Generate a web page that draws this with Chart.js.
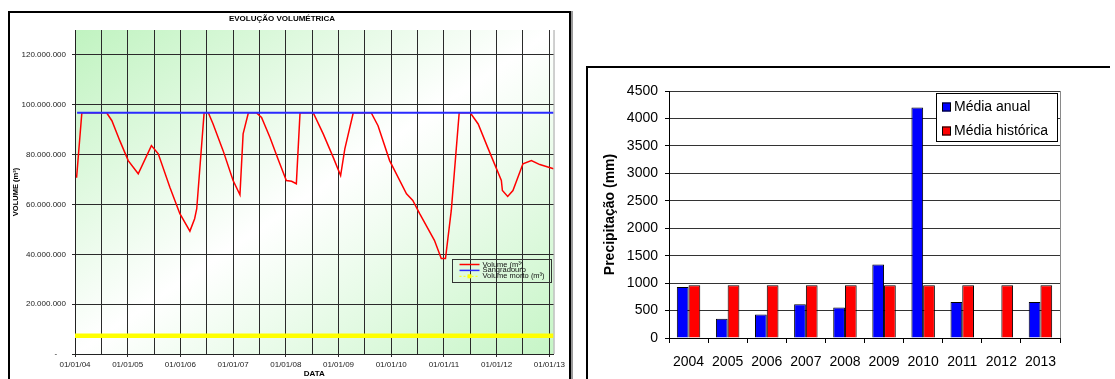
<!DOCTYPE html>
<html lang="pt-BR">
<head>
<meta charset="utf-8">
<title>Evolução volumétrica e precipitação</title>
<script src="https://cdn.jsdelivr.net/npm/chart.js@4.4.1/dist/chart.umd.min.js"></script>
<style>
  html, body { margin: 0; padding: 0; background: #fff; }
  body { width: 1115px; height: 379px; position: relative; overflow: hidden; }
  #box-volume { position: absolute; left: 8px; top: 11px; width: 559px; height: 380px;
    border: 2px solid #000; border-bottom: none; box-shadow: 2px 0 0 #9a9a9a; }
  #box-chuva { position: absolute; left: 586px; top: 66px; width: 522px; height: 320px;
    border-left: 2px solid #000; border-top: 2px solid #000; }
  canvas { position: absolute; }
  #volumeChart { left: 10px; top: 13px; }
  #chuvaChart { left: 588px; top: 68px; }
</style>
</head>
<body>
<div id="box-volume"></div>
<div id="box-chuva"></div>
<canvas id="volumeChart" width="558" height="366"></canvas>
<canvas id="chuvaChart" width="527" height="311"></canvas>
<script>
/* Evolução volumétrica (linha) + precipitação anual (barras) */

const FONT = '"Liberation Sans", Arial, sans-serif';

// --- dados do reservatório (datas em anos decimais, volumes em m³)
const volumeDates = [
  2004.03, 2004.13, 2004.60, 2004.70, 2004.85, 2005.01, 2005.20, 2005.45, 2005.58, 2005.80,
  2005.99, 2006.18, 2006.27, 2006.31, 2006.45, 2006.53, 2006.62, 2006.81, 2007.00, 2007.13,
  2007.19, 2007.29, 2007.44, 2007.54, 2007.70, 2007.85, 2008.01, 2008.11, 2008.20, 2008.27,
  2008.52, 2008.71, 2008.90, 2009.04, 2009.12, 2009.28, 2009.62, 2009.75, 2009.97, 2010.29,
  2010.41, 2010.54, 2010.82, 2010.95, 2011.03, 2011.14, 2011.29, 2011.50, 2011.65, 2011.83,
  2012.09, 2012.11, 2012.21, 2012.31, 2012.50, 2012.66, 2012.82, 2013.08
];
const volumeValues = [
  70700000, 96800000, 96800000, 93600000, 85600000, 77600000, 72300000, 83600000, 80300000, 66900000,
  56300000, 49300000, 54300000, 58300000, 96800000, 96800000, 92300000, 81600000, 69600000, 63900000,
  88300000, 96800000, 96800000, 94900000, 86900000, 78300000, 69600000, 69300000, 68300000, 96800000,
  96800000, 88300000, 78900000, 71600000, 82300000, 96800000, 96800000, 91600000, 77600000, 64300000,
  61600000, 56300000, 45600000, 38300000, 38300000, 57600000, 96800000, 96800000, 92300000, 82900000,
  69600000, 65600000, 63200000, 65600000, 76300000, 77600000, 76000000, 74300000
];
const sangradouroDates = [2004.04, 2013.08];
const sangradouroValues = [96800000, 96800000];
const mortoDates = [2004.0, 2013.08];
const mortoValues = [7300000, 7300000];
const dateTickLabels = ['01/01/04', '01/01/05', '01/01/06', '01/01/07', '01/01/08',
  '01/01/09', '01/01/10', '01/01/11', '01/01/12', '01/01/13'];
const volumeTicks = [0, 20000000, 40000000, 60000000, 80000000, 100000000, 120000000];

// --- precipitação
const years = ['2004', '2005', '2006', '2007', '2008', '2009', '2010', '2011', '2012', '2013'];
const mediaAnual = [930, 350, 430, 615, 555, 1340, 4200, 655, null, 655];
const mediaHistorica = [960, 960, 960, 960, 960, 960, 960, 960, 960, 960];

function formatVolume(v) {
  if (v === 0) return '-    ';
  return String(Math.round(v)).replace(/\B(?=(\d{3})+(?!\d))/g, '.');
}

function toPoints(xs, ys) {
  return xs.map((x, i) => ({ x: x, y: ys[i] }));
}

const firstYear = 2004;
const gridDates = [];
for (let i = 0; i < dateTickLabels.length * 2 - 1; i++) gridDates.push(firstYear + i * 0.5);

// degradê estilo Excel: verde nos cantos sup.-esq. e inf.-dir., branco na diagonal
const plotBackground = {
  id: 'plotBackground',
  beforeDraw(chart) {
    const { ctx, chartArea: a } = chart;
    const W = a.right - a.left, H = a.bottom - a.top;
    const cx = a.left + W / 2, cy = a.top + H / 2;
    const k = (W * H) / (W * W + H * H);
    const g = ctx.createLinearGradient(cx - k * H, cy - k * W, cx + k * H, cy + k * W);
    g.addColorStop(0, '#c0f3c0');
    g.addColorStop(0.5, '#ffffff');
    g.addColorStop(1, '#c6f5c6');
    ctx.save();
    ctx.fillStyle = g;
    ctx.fillRect(a.left, a.top, W, H);
    ctx.strokeStyle = '#a0a0a0';
    ctx.lineWidth = 1;
    ctx.beginPath();
    ctx.moveTo(a.right + 0.5, a.top);
    ctx.lineTo(a.right + 0.5, a.bottom);
    ctx.stroke();
    ctx.restore();
  }
};

const volumeLegend = {
  id: 'volumeLegend',
  afterDraw(chart) {
    const { ctx, chartArea: a } = chart;
    const x = a.right - 102, y = a.top + 229, w = 99, h = 23;
    ctx.save();
    ctx.strokeStyle = '#333';
    ctx.lineWidth = 1;
    ctx.strokeRect(Math.round(x) + 0.5, Math.round(y) + 0.5, w, h);
    ctx.font = '7.5px ' + FONT;
    ctx.textBaseline = 'middle';
    chart.data.datasets.forEach((ds, i) => {
      const ry = y + 5.5 + i * 5.9;
      ctx.strokeStyle = ds.borderColor;
      ctx.lineWidth = ds.legendDash ? 1 : 1.5;
      ctx.setLineDash(ds.legendDash || []);
      ctx.beginPath();
      ctx.moveTo(x + 8, ry);
      ctx.lineTo(x + 28, ry);
      ctx.stroke();
      ctx.setLineDash([]);
      if (ds.legendDash) {
        ctx.fillStyle = ds.borderColor;
        ctx.fillRect(x + 16, ry - 2, 4, 4);
      }
      ctx.fillStyle = '#111';
      ctx.fillText(ds.label, x + 31, ry);
    });
    ctx.restore();
  }
};

new Chart(document.getElementById('volumeChart'), {
  type: 'line',
  data: {
    datasets: [
      {
        label: 'Volume (m³)',
        data: toPoints(volumeDates, volumeValues),
        borderColor: '#ff0000',
        borderWidth: 1.5,
        pointRadius: 0,
        tension: 0,
        order: 2,
      },
      {
        label: 'Sangradouro',
        data: toPoints(sangradouroDates, sangradouroValues),
        borderColor: '#2a2aff',
        borderWidth: 2,
        pointRadius: 0,
        order: 1,
      },
      {
        label: 'Volume morto (m³)',
        data: toPoints(mortoDates, mortoValues),
        borderColor: '#ffff00',
        borderWidth: 4.5,
        pointRadius: 0,
        order: 3,
        legendDash: [2, 2],
      },
    ],
  },
  options: {
    responsive: false,
    animation: false,
    layout: { padding: { left: 0, right: 14, top: 0, bottom: 0 } },
    plugins: {
      legend: { display: false },
      tooltip: { enabled: false },
      title: {
        display: true,
        text: 'EVOLUÇÃO VOLUMÉTRICA',
        color: '#000',
        font: { family: FONT, size: 8, weight: 'bold' },
        padding: { top: 1, bottom: 6.4 },
      },
    },
    scales: {
      x: {
        type: 'linear',
        min: 2004,
        max: 2013.08,
        afterFit: (s) => { s.height = 25; },
        afterBuildTicks: (s) => { s.ticks = gridDates.map((v) => ({ value: v })); },
        ticks: {
          autoSkip: false,
          maxRotation: 0,
          minRotation: 0,
          padding: 3,
          color: '#222',
          font: { family: FONT, size: 8 },
          callback: (v) => {
            const k = v - firstYear;
            return Number.isInteger(k) ? dateTickLabels[k] : '';
          },
        },
        grid: {
          color: '#2a2a2a',
          tickLength: 3,
          tickColor: (c) => (Number.isInteger(c.tick.value) ? '#2a2a2a' : 'rgba(0,0,0,0)'),
        },
        border: { color: '#222' },
        title: {
          display: true,
          text: 'DATA',
          color: '#000',
          font: { family: FONT, size: 8, weight: 'bold' },
          padding: { top: 0, bottom: 0 },
        },
      },
      y: {
        type: 'linear',
        min: 0,
        max: 130000000,
        afterFit: (s) => { s.width = 65; },
        afterBuildTicks: (s) => { s.ticks = volumeTicks.map((v) => ({ value: v })); },
        ticks: {
          autoSkip: false,
          padding: 6,
          color: '#222',
          font: { family: FONT, size: 8 },
          callback: (v) => formatVolume(v),
        },
        grid: { color: '#2a2a2a', tickLength: 3 },
        border: { color: '#222' },
        title: {
          display: true,
          text: 'VOLUME (m³)',
          color: '#000',
          font: { family: FONT, size: 7.5, weight: 'bold' },
          padding: { top: 1, bottom: 0 },
        },
      },
    },
  },
  plugins: [plotBackground, volumeLegend],
});

const chuvaLegend = {
  id: 'chuvaLegend',
  afterDraw(chart) {
    const { ctx, chartArea: a } = chart;
    const x = a.right - 124, y = a.top + 2, w = 121, h = 48;
    ctx.save();
    ctx.fillStyle = '#fff';
    ctx.fillRect(x, y, w, h);
    ctx.strokeStyle = '#000';
    ctx.lineWidth = 1;
    ctx.strokeRect(Math.round(x) + 0.5, Math.round(y) + 0.5, w, h);
    ctx.font = '14px ' + FONT;
    ctx.textBaseline = 'middle';
    chart.data.datasets.forEach((ds, i) => {
      const ry = y + 14 + i * 24;
      ctx.fillStyle = ds.backgroundColor;
      ctx.fillRect(x + 6, ry - 4.5, 9, 9);
      ctx.strokeStyle = '#000';
      ctx.strokeRect(x + 6.5, ry - 4, 8, 8);
      ctx.fillStyle = '#000';
      ctx.fillText(ds.label, x + 18, ry + 0.5);
    });
    ctx.restore();
  }
};

const plotRightEdge = {
  id: 'plotRightEdge',
  afterDraw(chart) {
    const { ctx, chartArea: a } = chart;
    ctx.save();
    ctx.strokeStyle = '#8a8a8a';
    ctx.lineWidth = 1;
    ctx.beginPath();
    ctx.moveTo(Math.round(a.right) + 0.5, a.top);
    ctx.lineTo(Math.round(a.right) + 0.5, a.bottom);
    ctx.stroke();
    ctx.restore();
  }
};

new Chart(document.getElementById('chuvaChart'), {
  type: 'bar',
  data: {
    labels: years,
    datasets: [
      {
        label: 'Média anual',
        data: mediaAnual,
        backgroundColor: '#0000ff',
        borderColor: '#000',
        borderWidth: 1,
        categoryPercentage: 0.6,
        barPercentage: 1,
      },
      {
        label: 'Média histórica',
        data: mediaHistorica,
        backgroundColor: '#ff0000',
        borderColor: '#000',
        borderWidth: 1,
        categoryPercentage: 0.6,
        barPercentage: 1,
      },
    ],
  },
  options: {
    responsive: false,
    animation: false,
    layout: { padding: { left: 0, right: 55, top: 23, bottom: 0 } },
    plugins: {
      legend: { display: false },
      tooltip: { enabled: false },
    },
    scales: {
      x: {
        afterFit: (s) => { s.height = 41; },
        ticks: {
          autoSkip: false,
          maxRotation: 0,
          padding: 11,
          color: '#000',
          font: { family: FONT, size: 14 },
        },
        grid: { offset: true, drawOnChartArea: false, tickLength: 5, color: '#000' },
        border: { color: '#000' },
      },
      y: {
        min: 0,
        max: 4500,
        afterFit: (s) => { s.width = 81; },
        ticks: {
          stepSize: 500,
          padding: 7,
          color: '#000',
          font: { family: FONT, size: 14 },
          callback: (v) => String(v),
        },
        grid: { color: '#333', tickLength: 4, tickColor: '#000' },
        border: { color: '#000' },
        title: {
          display: true,
          text: 'Precipitação (mm)',
          color: '#000',
          font: { family: FONT, size: 14, weight: 'bold' },
          padding: { top: 13.6, bottom: 0 },
        },
      },
    },
  },
  plugins: [chuvaLegend, plotRightEdge],
});
</script>
</body>
</html>
